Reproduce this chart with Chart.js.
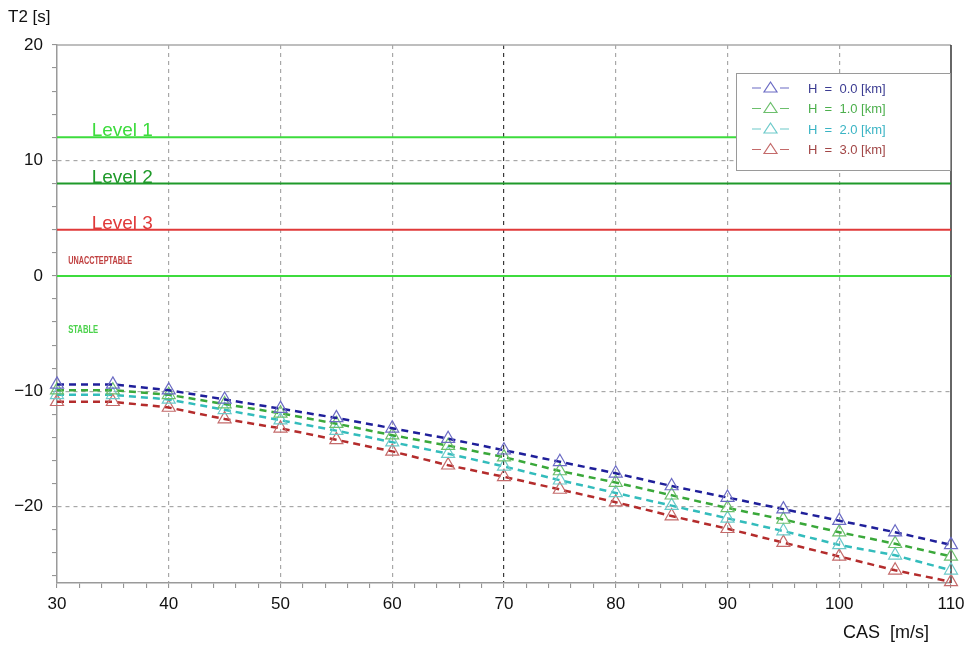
<!DOCTYPE html>
<html>
<head>
<meta charset="utf-8">
<script src="https://cdn.jsdelivr.net/npm/chart.js@4/dist/chart.umd.min.js"></script>
<style>
  html, body { margin: 0; padding: 0; background: #fff; }
  #wrap { width: 968px; height: 646px; }
</style>
</head>
<body>
<div id="wrap"><canvas id="c" width="968" height="646"></canvas></div>
<script>
// Calibrated air speed [m/s]
const cas = [30, 35, 40, 45, 50, 55, 60, 65, 70, 75, 80, 85, 90, 95, 100, 105, 110];

// Time to double amplitude T2 [s] at each altitude
const t2H0 = [-9.4, -9.4, -9.9, -10.7, -11.5, -12.3, -13.2, -14.1, -15.1, -16.1, -17.1, -18.2, -19.2, -20.2, -21.2, -22.2, -23.3];
const t2H1 = [-9.9, -9.9, -10.3, -11.1, -11.9, -12.8, -13.8, -14.7, -15.7, -16.9, -17.9, -19.0, -20.1, -21.1, -22.2, -23.2, -24.3];
const t2H2 = [-10.3, -10.3, -10.7, -11.6, -12.5, -13.4, -14.4, -15.4, -16.5, -17.7, -18.8, -19.9, -21.0, -22.1, -23.3, -24.2, -25.5];
const t2H3 = [-10.9, -10.9, -11.4, -12.4, -13.2, -14.2, -15.2, -16.4, -17.4, -18.5, -19.6, -20.8, -21.9, -23.1, -24.3, -25.5, -26.5];

const seriesLabels = ['H  =  0.0 [km]', 'H  =  1.0 [km]', 'H  =  2.0 [km]', 'H  =  3.0 [km]'];

// Handling quality boundaries
const levelNames = ['Level 1', 'Level 2', 'Level 3'];
const levelValues = [12, 8, 4];
const stableBoundary = 0;
const regionLabels = ['UNACCTEPTABLE', 'STABLE'];

// Axis ranges and tick positions
const xMin = 30, xMax = 110;
const yMin = -26.6, yMax = 20;
const xTicks = [30,32,34,36,38,40,42,44,46,48,50,52,54,56,58,60,62,64,66,68,70,72,74,76,78,80,82,84,86,88,90,92,94,96,98,100,102,104,106,108,110];
const yTicks = [-26,-24,-22,-20,-18,-16,-14,-12,-10,-8,-6,-4,-2,0,2,4,6,8,10,12,14,16,18,20];

const lineColors = ['#1f1f9a', '#3aa83a', '#33bcbc', '#b42c2c'];
const markColors = ['#6b6bc4', '#6cbf6c', '#6ccaca', '#c46a6a'];
const textColors = ['#3c3c92', '#4caf4c', '#3ab4c4', '#a24646'];
const levelColors = ['#3ddc3d', '#1f9a2a', '#e03a3a'];

const FONT = "'Liberation Sans', Arial, sans-serif";

const pts = (ys) => cas.map((x, i) => ({ x: x, y: ys[i] }));
const hline = (v) => [{ x: xMin, y: v }, { x: xMax, y: v }];

const seriesData = [t2H0, t2H1, t2H2, t2H3];
const datasets = seriesData.map((ys, i) => ({
  label: seriesLabels[i],
  data: pts(ys),
  showLine: true,
  borderColor: lineColors[i],
  borderWidth: 2.5,
  borderDash: [7, 5],
  pointStyle: 'triangle',
  pointRadius: 7.5,
  pointBorderWidth: 1.2,
  pointBorderColor: markColors[i],
  pointBackgroundColor: 'rgba(255,255,255,0)',
  tension: 0,
  clip: false
}));

levelValues.forEach((v, i) => {
  datasets.push({
    label: levelNames[i],
    data: hline(v),
    showLine: true,
    borderColor: levelColors[i],
    borderWidth: 2,
    pointRadius: 0
  });
});
datasets.push({
  label: 'stable',
  data: hline(stableBoundary),
  showLine: true,
  borderColor: '#3ddc3d',
  borderWidth: 2,
  pointRadius: 0
});

const decorations = {
  id: 'decorations',
  beforeDatasetsDraw(chart) {
    const { ctx, chartArea: a } = chart;
    ctx.save();
    // top frame
    ctx.strokeStyle = '#a8a8a8';
    ctx.lineWidth = 1.5;
    ctx.beginPath();
    ctx.moveTo(a.left, a.top);
    ctx.lineTo(a.right, a.top);
    ctx.stroke();
    // right frame
    ctx.strokeStyle = '#333';
    ctx.lineWidth = 1.5;
    ctx.beginPath();
    ctx.moveTo(a.right, a.top);
    ctx.lineTo(a.right, a.bottom);
    ctx.stroke();
    ctx.restore();
  },
  afterDatasetsDraw(chart) {
    const { ctx, chartArea: a, scales: { x, y } } = chart;
    ctx.save();

    // level labels sitting on their lines
    ctx.font = '19px ' + FONT;
    ctx.textAlign = 'left';
    ctx.textBaseline = 'alphabetic';
    const lx = x.getPixelForValue(33.1);
    levelValues.forEach((v, i) => {
      ctx.fillStyle = levelColors[i];
      ctx.fillText(levelNames[i], lx, y.getPixelForValue(v) - 1);
    });

    // region labels
    ctx.font = 'bold 10px ' + FONT;
    ctx.textBaseline = 'middle';
    ctx.fillStyle = '#c04040';
    ctx.fillText(regionLabels[0], x.getPixelForValue(31), y.getPixelForValue(1.3), 64);
    ctx.fillStyle = '#4cd24c';
    ctx.fillText(regionLabels[1], x.getPixelForValue(31), y.getPixelForValue(-4.7), 30);

    // legend box
    const bx = 736, by = 73, bw = a.right - 736 - 1, bh = 97;
    ctx.fillStyle = '#fff';
    ctx.fillRect(bx, by, bw, bh);
    ctx.strokeStyle = '#9a9a9a';
    ctx.lineWidth = 1;
    ctx.strokeRect(bx + 0.5, by + 0.5, bw, bh);
    seriesLabels.forEach((lab, i) => {
      const cy = by + 15 + i * 20.5;
      ctx.strokeStyle = markColors[i];
      ctx.lineWidth = 1.2;
      ctx.beginPath();
      ctx.moveTo(752, cy); ctx.lineTo(761, cy);
      ctx.moveTo(780, cy); ctx.lineTo(789, cy);
      ctx.stroke();
      // triangle symbol
      ctx.beginPath();
      ctx.moveTo(770.5, cy - 6);
      ctx.lineTo(777, cy + 4);
      ctx.lineTo(764, cy + 4);
      ctx.closePath();
      ctx.stroke();
      ctx.fillStyle = textColors[i];
      ctx.font = '13px ' + FONT;
      ctx.textBaseline = 'middle';
      ctx.fillText(lab, 808, cy + 1);
    });

    // axis titles
    ctx.fillStyle = '#111';
    ctx.font = '17px ' + FONT;
    ctx.textBaseline = 'alphabetic';
    ctx.textAlign = 'left';
    ctx.fillText('T2 [s]', 8, 22);
    ctx.font = '18px ' + FONT;
    ctx.fillText('CAS  [m/s]', 843, 638);
    ctx.restore();
  }
};

const fmt = (v) => (v < 0 ? '\u2212' + Math.abs(v) : String(v));

new Chart(document.getElementById('c'), {
  type: 'scatter',
  data: { datasets: datasets },
  options: {
    responsive: false,
    animation: false,
    layout: { padding: { top: 45, right: 17, left: 0, bottom: 0 } },
    plugins: { legend: { display: false }, tooltip: { enabled: false } },
    scales: {
      x: {
        type: 'linear',
        min: xMin,
        max: xMax,
        afterFit(s) { s.height = 63; s.paddingLeft = 0; s.paddingRight = 0; },
        afterBuildTicks(s) { s.ticks = xTicks.map(v => ({ value: v })); },
        ticks: {
          autoSkip: false,
          maxRotation: 0,
          padding: 6,
          color: '#111',
          font: { size: 17, family: FONT },
          callback: (v) => (v % 10 === 0 ? fmt(v) : '')
        },
        grid: {
          color: (c) => {
            const v = c.tick ? c.tick.value : null;
            if (v === 70) return '#3a3a3a';
            if (v !== null && v % 10 === 0 && v !== xMin && v !== xMax) return '#a8a8a8';
            return 'rgba(0,0,0,0)';
          },
          lineWidth: 1.2,
          tickColor: '#8a8a8a',
          tickLength: 5,
          tickWidth: 1
        },
        border: { display: true, color: '#9a9a9a', width: 1.5, dash: [4, 4] }
      },
      y: {
        type: 'linear',
        min: yMin,
        max: yMax,
        afterFit(s) { s.width = 57; s.paddingTop = 0; s.paddingBottom = 0; },
        afterBuildTicks(s) { s.ticks = yTicks.map(v => ({ value: v })); },
        ticks: {
          autoSkip: false,
          padding: 9,
          color: '#111',
          font: { size: 17, family: FONT },
          callback: (v) => (v % 10 === 0 ? fmt(v) : '')
        },
        grid: {
          color: (c) => {
            const v = c.tick ? c.tick.value : null;
            if (v !== null && v % 10 === 0 && v !== 0 && v !== yMax) return '#a8a8a8';
            return 'rgba(0,0,0,0)';
          },
          lineWidth: 1.2,
          tickColor: '#8a8a8a',
          tickLength: 5,
          tickWidth: 1
        },
        border: { display: true, color: '#9a9a9a', width: 1.5, dash: [4, 4] }
      }
    }
  },
  plugins: [decorations]
});
</script>
</body>
</html>
